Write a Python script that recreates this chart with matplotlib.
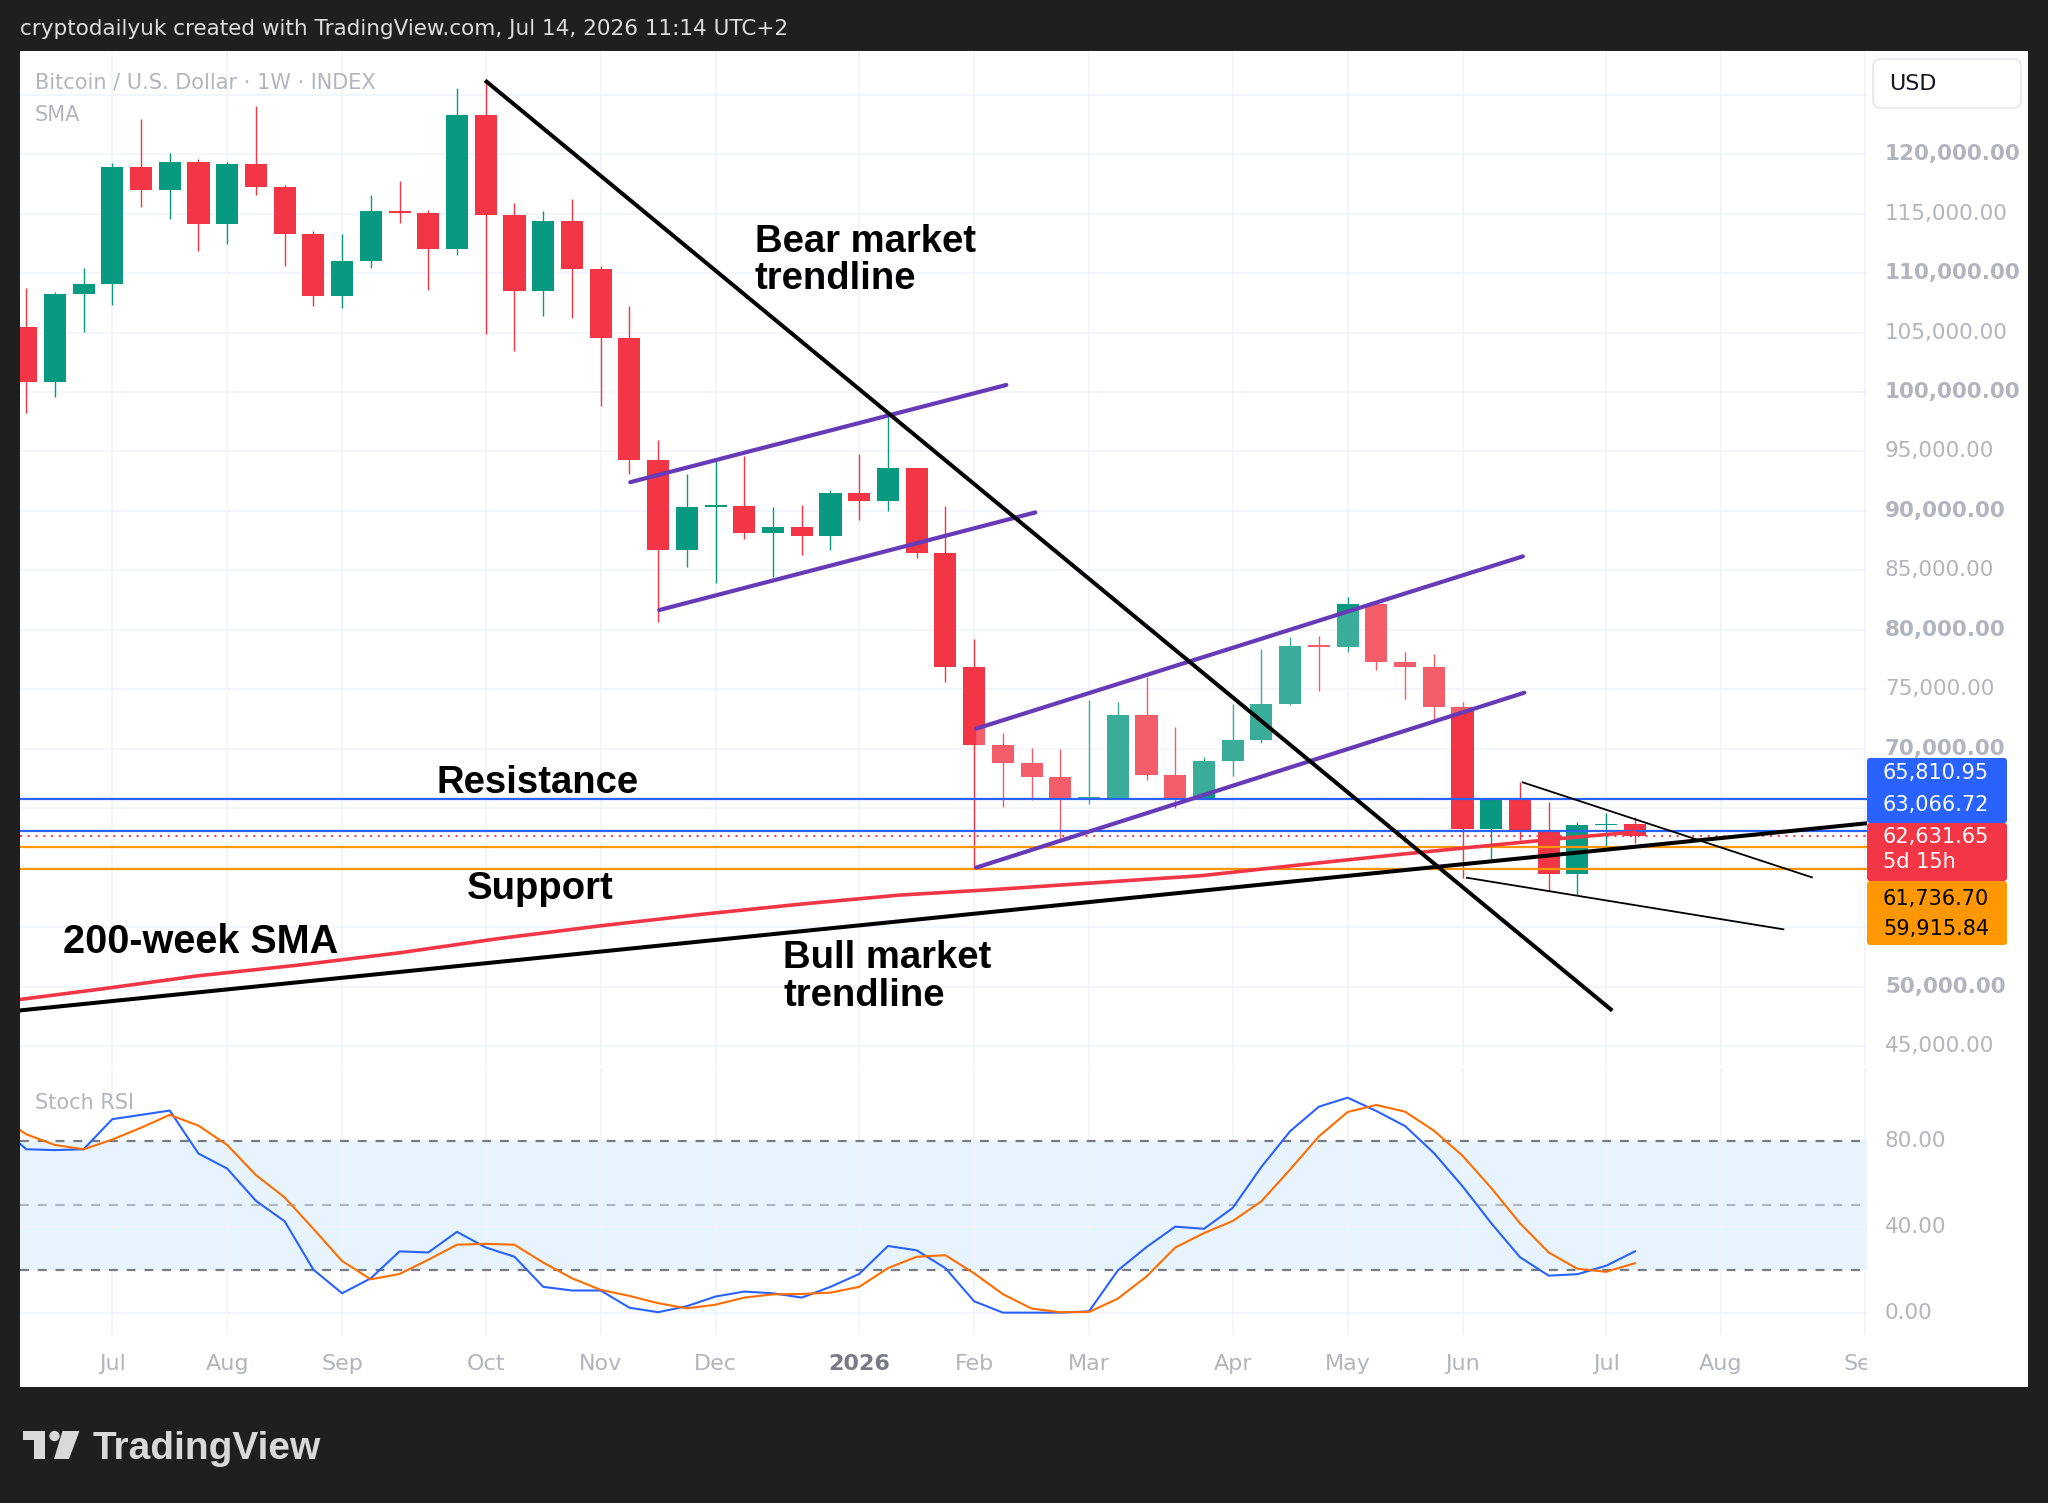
import numpy as np
import pandas as pd
import matplotlib
matplotlib.use("Agg")
import matplotlib.pyplot as plt
from matplotlib.patches import Rectangle, FancyBboxPatch, Polygon, Circle
from matplotlib.transforms import blended_transform_factory

# weekly BTC/USD candles, first bar = week of 16 Jun 2025
first_week = "2025-06-16"
opens = [105437, 100815, 108212, 109053, 118890, 117007, 119310, 114098, 119142, 117259,
         113283, 108070, 111012, 115216, 115074, 111996, 123287, 114880, 108490, 114375,
         110314, 104513, 94282, 86720, 90356, 90420, 88103, 88650, 87878, 91482,
         90838, 93574, 86494, 76840, 70308, 68795, 67604, 65802, 65900, 72818,
         67829, 65802, 68956, 70726, 73783, 78640, 78600, 82144, 77295, 76902,
         73538, 63224, 65690, 63167, 59440, 63588, 63672]
highs = [108767, 108433, 110399, 119226, 122951, 120067, 119588, 119300, 124069, 117400,
         113500, 113257, 116561, 117764, 115300, 125532, 126087, 115863, 115216, 116200,
         110592, 107229, 95987, 93091, 94217, 94636, 90292, 90517, 91740, 94764,
         97918, 93600, 90453, 79254, 71368, 70082, 69985, 74105, 73944, 76036,
         71852, 69278, 73783, 78353, 79425, 79509, 82789, 82368, 78107, 77968,
         73959, 65690, 67232, 65494, 63868, 64625, 64289]
lows = [98208, 99603, 105017, 107313, 115578, 114519, 111828, 112441, 116561, 110617,
        107254, 107086, 110449, 114232, 108575, 111516, 104875, 103445, 106390, 106194,
        98822, 93091, 80702, 85304, 83920, 87621, 84403, 86333, 86720, 89230,
        90034, 86012, 75649, 60010, 65093, 65673, 62519, 65351, 65802, 67346,
        65029, 65802, 67733, 70500, 73700, 74884, 78164, 76622, 74183, 72501,
        59103, 60729, 62326, 58038, 57702, 61401, 62046]
closes = [100815, 108212, 109053, 118890, 117007, 119310, 114098, 119142, 117259, 113283,
          108070, 111012, 115216, 115074, 111996, 123287, 114880, 108490, 114375, 110314,
          104513, 94282, 86720, 90356, 90420, 88103, 88650, 87878, 91482, 90838,
          93574, 86494, 76840, 70308, 68795, 67604, 65802, 65900, 72818, 67829,
          65802, 68956, 70726, 73783, 78640, 78600, 82144, 77295, 76902, 73538,
          63224, 65690, 63167, 59440, 63588, 63672, 62632]

# 200-week SMA (bar index, value)
sma_idx = [-0.2, 2.6, 6.0, 9.5, 13.0, 16.5, 20.0, 23.5, 27.0, 30.4, 33.9, 37.4, 40.9, 44.3, 47.8, 51.3, 53.7, 56.0]
sma_val = [48930, 49800, 50920, 51820, 52850, 54060, 55120, 56080, 56950, 57700, 58200, 58770, 59330, 60230, 61120, 61960, 62520, 63000]

# Stoch RSI, starts one week before first candle
stoch_k = [88, 76, 75.6, 76, 90, 92, 94, 74, 67, 52, 42.5, 20, 9, 16, 28.5, 28, 37.6, 30.3, 26, 12,
           10.3, 10.3, 2.3, 0.2, 3, 7.5, 9.8, 9, 7, 12, 18, 31, 29, 20.7, 5.3, 0, 0, 0, 0.6, 19.6,
           30.5, 40, 39, 48.7, 67.8, 84.4, 95.8, 100, 93.8, 86.8, 74.3, 58.8, 41.6, 25.8, 17.2, 17.9,
           21.8, 28.5]
stoch_d = [92, 83, 78, 76, 80.5, 86, 92, 87, 78, 64, 53.6, 39, 24, 15.5, 18, 24.6, 31.6, 32, 31.6, 23.3,
           16, 10.6, 7.8, 4.4, 2, 3.7, 7, 8.5, 8.7, 9.3, 12, 20.7, 26, 26.7, 18.3, 8.6, 1.9, 0.2, 0.3, 6.5,
           16.8, 30.3, 37, 42.6, 51.8, 66.6, 82, 93.3, 96.6, 93.5, 84.7, 73, 58, 41.6, 28, 20.4, 19, 23]

# drawings: (bar index, price)
bear_line = [(16.03, 126087), (55.16, 48095)]
bull_line = [(-0.23, 48000), (64.08, 63740)]
chan1_upper = [(21.03, 92415), (34.12, 100589)]
chan1_lower = [(22.04, 81667), (35.13, 89873)]
chan2_upper = [(33.07, 71691), (52.10, 86180)]
chan2_lower = [(33.07, 60010), (52.15, 74716)]
wedge_upper = [(52.10, 67176), (62.16, 59194)]
wedge_lower = [(50.15, 59160), (61.17, 54822)]

resistance = 65810.95
level_blue = 63066.72
last_price = 62631.65
support_hi = 61736.70
support_lo = 59915.84

GREEN = "#089981"
RED = "#f23645"
BLUE = "#2962ff"
ORANGE = "#ff9800"
PURPLE = "#673ab7"
DARK = "#1f1f1f"
GRID = "#f0f3fa"
TXT = "#b2b5be"

W, H = 2048, 1503
fig = plt.figure(figsize=(W / 100, H / 100), dpi=100)
fig.patch.set_facecolor(DARK)

bg = fig.add_axes([0, 0, 1, 1], zorder=-5)
bg.set_xlim(0, W)
bg.set_ylim(H, 0)
bg.axis("off")
bg.add_patch(Rectangle((19.5, 51), 2028 - 19.5, 1387 - 51, facecolor="white", edgecolor="none"))

left, right = 19.5, 1867
ax = fig.add_axes([left / W, 1 - 1066 / H, (right - left) / W, (1066 - 51) / H])
ax2 = fig.add_axes([left / W, 1 - 1335 / H, (right - left) / W, (1335 - 1068) / H])
for a in (ax, ax2):
    a.set_facecolor("none")
    for s in a.spines.values():
        s.set_visible(False)
    a.tick_params(length=0, labelleft=False, labelbottom=False)
    a.set_xlim(-0.23, 64.08)

# month ticks from weekly dates
weeks = pd.date_range(first_week, periods=66, freq="W-MON")
tick_idx, tick_lab = [], []
for i in range(1, len(weeks)):
    if weeks[i].month != weeks[i - 1].month:
        tick_idx.append(i)
        tick_lab.append(str(weeks[i].year) if weeks[i].month == 1 else weeks[i].strftime("%b"))

# ---- price pane
ax.set_ylim(43331, 128668)
ax.set_xticks(tick_idx)
ax.set_yticks(range(45000, 125001, 5000))
ax.grid(True, color=GRID, lw=1.2, zorder=0)

x = np.arange(len(opens))
o = np.array(opens, float)
c = np.array(closes, float)
cols = [GREEN if cc >= oo else RED for oo, cc in zip(o, c)]
ax.vlines(x, lows, highs, colors=cols, lw=1.0, zorder=2)
body_h = np.maximum(np.abs(c - o), 120)
ax.bar(x, body_h, bottom=np.minimum(o, c), width=0.77, color=cols, lw=0, zorder=2)

# lighter fill of second channel
ax.add_patch(Polygon([chan2_lower[0], chan2_upper[0], chan2_upper[1], chan2_lower[1]],
                     closed=True, facecolor="white", alpha=0.2, edgecolor="none", zorder=3))

for lvl, col in [(resistance, BLUE), (level_blue, BLUE), (support_hi, ORANGE), (support_lo, ORANGE)]:
    ax.axhline(lvl, color=col, lw=1.6, zorder=4)
ax.axhline(last_price, color=RED, lw=1.4, ls=(0, (1, 3)), zorder=4)

ax.plot(sma_idx, sma_val, color=RED, lw=2.6, zorder=5, solid_capstyle="round")

for seg in (chan1_upper, chan1_lower, chan2_upper, chan2_lower):
    ax.plot(*zip(*seg), color=PURPLE, lw=3.0, zorder=6, solid_capstyle="round")
for seg in (wedge_upper, wedge_lower):
    ax.plot(*zip(*seg), color="black", lw=1.3, zorder=6)
for seg in (bear_line, bull_line):
    ax.plot(*zip(*seg), color="black", lw=2.9, zorder=7)

ann = dict(fontsize=27.5, fontweight="bold", family="Liberation Sans", color="black",
           va="baseline", ha="left", zorder=10)
ax.text(25.37, 111768, "Bear market", **ann)
ax.text(25.37, 108657, "trendline", **ann)
ax.text(26.35, 51575, "Bull market", **ann)
ax.text(26.35, 48380, "trendline", **ann)
ax.text(14.3, 66300, "Resistance", **ann)
ax.text(15.35, 57370, "Support", **ann)
ax.text(1.28, 52830, "200-week SMA", **dict(ann, fontsize=28.5))

# price scale labels (the ones under the coloured level tags are hidden, as in TradingView)
ytr = blended_transform_factory(ax.transAxes, ax.transData)
lab_x = (1885 - left) / (right - left)
for p in range(45000, 120001, 5000):
    if 53500 < p < 69000:
        continue
    ax.text(lab_x, p, f"{p:,.2f}", transform=ytr, va="center", ha="left", fontsize=15.5,
            color=TXT, fontweight="bold" if p % 10000 == 0 else "normal", clip_on=False)

# ---- stoch RSI pane
ax2.set_ylim(-10.4, 113.8)
ax2.set_xticks(tick_idx)
ax2.set_yticks([0, 40, 80])
ax2.grid(True, color=GRID, lw=1.2, zorder=0)
ax2.axhspan(20, 80, color="#2196f3", alpha=0.1, lw=0, zorder=1)
ax2.axhline(80, color="#787b86", lw=1.6, ls=(0, (4, 4)), zorder=2)
ax2.axhline(50, color="#787b86", lw=1.6, ls=(0, (4, 4)), alpha=0.5, zorder=2)
ax2.axhline(20, color="#787b86", lw=1.6, ls=(0, (4, 4)), zorder=2)
sx = np.arange(-1, len(stoch_k) - 1)
ax2.plot(sx, stoch_k, color=BLUE, lw=1.5, zorder=3)
ax2.plot(sx, stoch_d, color="#ff6d00", lw=1.5, zorder=3)

ytr2 = blended_transform_factory(ax2.transAxes, ax2.transData)
for v in (80, 40, 0):
    ax2.text(lab_x, v, f"{v:.2f}", transform=ytr2, va="center", ha="left", fontsize=15.5,
             color=TXT, clip_on=False)

xtr2 = blended_transform_factory(ax2.transData, ax2.transAxes)
for i, lab in zip(tick_idx, tick_lab):
    ax2.text(i, -0.109, lab, transform=xtr2, ha="center", va="center", fontsize=16,
             color="#787b86" if lab == "2026" else TXT,
             fontweight="bold" if lab == "2026" else "normal", clip_on=False)

# ---- overlay: header, labels, footer
ov = fig.add_axes([0, 0, 1, 1], zorder=5)
ov.set_xlim(0, W)
ov.set_ylim(H, 0)
ov.axis("off")
ov.patch.set_alpha(0)

ov.add_patch(Rectangle((1867, 1338), 2028 - 1867, 1387 - 1338, facecolor="white", edgecolor="none"))

ov.text(20, 29, "cryptodailyuk created with TradingView.com, Jul 14, 2026 11:14 UTC+2",
        color="#dedede", fontsize=15.5, va="center", ha="left")
ov.text(35, 89, "Bitcoin / U.S. Dollar · 1W · INDEX", color=TXT, fontsize=15, va="baseline")
ov.text(35, 121, "SMA", color=TXT, fontsize=15, va="baseline")
ov.text(35, 1109, "Stoch RSI", color=TXT, fontsize=15, va="baseline")

ov.add_patch(FancyBboxPatch((1873, 59), 148, 49, boxstyle="round,pad=0,rounding_size=8",
                            facecolor="white", edgecolor="#e0e3eb", lw=1))
ov.text(1889, 84, "USD", color="#131722", fontsize=16, va="center", ha="left")

boxes = [(758, 823, BLUE), (823, 881, RED), (881, 945, ORANGE)]
for y0, y1, col in boxes:
    ov.add_patch(FancyBboxPatch((1867, y0), 140, y1 - y0, boxstyle="round,pad=0,rounding_size=3",
                                facecolor=col, edgecolor="none"))
label_rows = [(773, f"{resistance:,.2f}", "white"), (805, f"{level_blue:,.2f}", "white"),
              (837, f"{last_price:,.2f}", "white"), (862, "5d 15h", "white"),
              (899, f"{support_hi:,.2f}", "black"), (929, f"{support_lo:,.2f}", "black")]
for yy, s, col in label_rows:
    ov.text(1883, yy, s, color=col, fontsize=15, va="center", ha="left")

# TradingView logo
logo = "#d9d9d9"
ov.add_patch(Polygon([(23, 1431), (45, 1431), (45, 1459), (34, 1459), (34, 1440), (23, 1440)],
                     closed=True, facecolor=logo, edgecolor="none"))
ov.add_patch(Circle((54.5, 1436), 5.2, facecolor=logo, edgecolor="none"))
ov.add_patch(Polygon([(62.5, 1431), (79.5, 1431), (69, 1459), (54, 1459)],
                     closed=True, facecolor=logo, edgecolor="none"))
ov.text(93, 1459, "TradingView", color=logo, fontsize=28, fontweight="bold",
        family="Liberation Sans", va="baseline", ha="left")

fig.savefig("out.png", dpi=100, facecolor=fig.get_facecolor())
